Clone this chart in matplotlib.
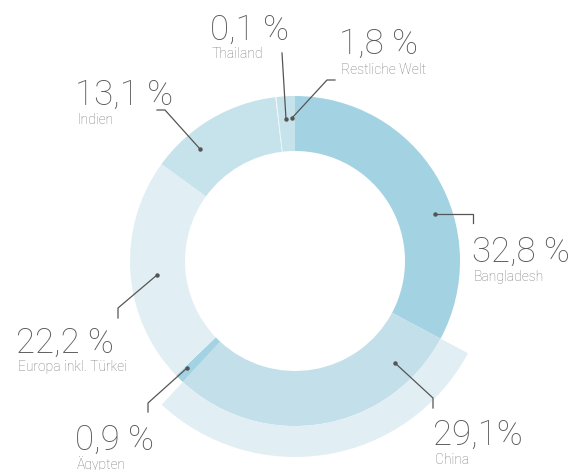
import matplotlib
matplotlib.use("Agg")
import matplotlib.pyplot as plt
from matplotlib.patches import Wedge

# data (clockwise from 12 o'clock)
countries = ["Bangladesh", "China", "Ägypten", "Europa inkl. Türkei", "Indien", "Thailand", "Restliche Welt"]
shares = [32.8, 29.1, 0.9, 22.2, 13.1, 0.1, 1.8]
value_labels = ["32,8 %", "29,1%", "0,9 %", "22,2 %", "13,1 %", "0,1 %", "1,8 %"]
colors = ["#a3d3e2", "#c2dfea", "#a3d3e2", "#e1eff5", "#c6e3ec", "#eef6f9", "#c6e3ec"]

H = 470
cx, cy = 295, H - 261
r_out, r_in = 165, 110

fig = plt.figure(figsize=(5.73, 4.70), dpi=100)
ax = fig.add_axes([0, 0, 1, 1])

ax.pie(shares, colors=colors, startangle=90, counterclock=False, radius=r_out,
       center=(cx, cy), wedgeprops=dict(width=r_out - r_in, linewidth=0))

# extra outer band for China
total = sum(shares)
t_start = 90 - 360 * shares[0] / total
t_end = 90 - 360 * (shares[0] + shares[1]) / total
ax.add_patch(Wedge((cx, cy), 196, t_end, t_start, width=196 - r_out,
                   facecolor="#e1eff5", linewidth=0))

ax.set_xlim(0, 573)
ax.set_ylim(0, H)
ax.set_aspect("auto")
ax.axis("off")

# label layout: (value x, value baseline y, name y, leader path) in pixel coords, y from top
layout = {
    "Bangladesh": (472, 262, 277, [(435, 214), (473, 214), (473, 223)]),
    "China": (433, 445, 460, [(395, 363), (433, 398), (433, 408)]),
    "Ägypten": (75, 450, 464, [(187, 368), (148, 403), (148, 412)]),
    "Europa inkl. Türkei": (16, 353, 367, [(157, 275), (118, 308), (118, 318)]),
    "Indien": (75, 105, 120, [(200, 149), (165, 110), (157, 110)]),
    "Thailand": (210, 40, 54, [(286, 119), (282, 53)]),
    "Restliche Welt": (339, 54, 70, [(292, 118), (327, 80), (335, 80)]),
}

num_font = dict(family=["Roboto", "DejaVu Sans"], weight="light", size=25, color="#5a5a5a")
name_font = dict(family=["Roboto", "DejaVu Sans"], weight="light", size=10, color="#7a7a7a")

for name, val in zip(countries, value_labels):
    x, yb, yn, path = layout[name]
    ax.text(x, H - yb, val, ha="left", va="baseline", **num_font)
    ax.text(x + 2, H - yn, name, ha="left", va="center", **name_font)
    xs = [p[0] for p in path]
    ys = [H - p[1] for p in path]
    ax.plot(xs, ys, color="#555555", lw=0.9)
    ax.plot(xs[0], ys[0], "o", color="#555555", ms=2.2)

fig.savefig("out.png", dpi=100)
